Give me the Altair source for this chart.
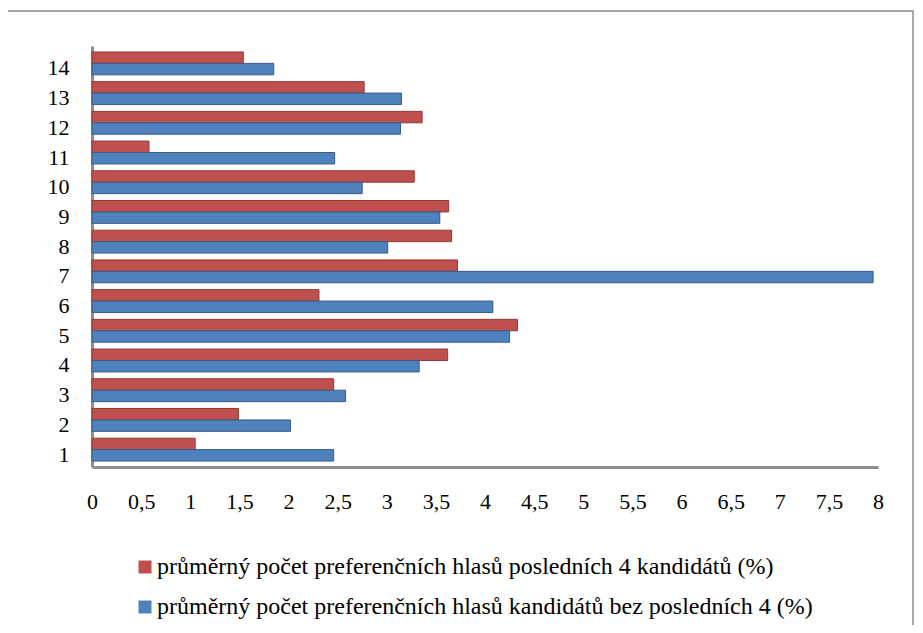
import altair as alt
import pandas as pd

categories = [str(i) for i in range(1, 15)]
red_vals = [1.05, 1.49, 2.46, 3.62, 4.33, 2.31, 3.72, 3.66, 3.63, 3.28, 0.58, 3.36, 2.77, 1.54]
blue_vals = [2.46, 2.02, 2.58, 3.33, 4.25, 4.08, 7.95, 3.01, 3.54, 2.75, 2.47, 3.14, 3.15, 1.85]
series_names = [
    "průměrný počet preferenčních hlasů posledních 4 kandidátů (%)",
    "průměrný počet preferenčních hlasů kandidátů bez posledních 4 (%)",
]
x_ticks = [i * 0.5 for i in range(17)]
colors = ["#C0504D", "#4F81BD"]
strokes = ["#953735", "#385D8A"]

rows = []
for c, r, b in zip(categories, red_vals, blue_vals):
    rows.append({"cat": c, "series": series_names[0], "value": r})
    rows.append({"cat": c, "series": series_names[1], "value": b})
df = pd.DataFrame(rows)

W, H = 786, 421
FONT = "Liberation Serif"

bars = alt.Chart(df).mark_bar(strokeWidth=1).encode(
    x=alt.X("value:Q",
            scale=alt.Scale(domain=[0, 8], nice=False, zero=True),
            axis=alt.Axis(values=x_ticks, title=None, grid=False, ticks=False,
                          labelExpr="replace(toString(datum.value), '.', ',')",
                          labelPadding=24, labelFontSize=22, labelFont=FONT,
                          labelColor="black", domainColor="#8C8C8C", domainWidth=3,
                          labelFlush=False)),
    y=alt.Y("cat:N", sort=list(reversed(categories)),
            scale=alt.Scale(paddingInner=0.23, paddingOuter=0.2),
            axis=alt.Axis(title=None, ticks=False, labelPadding=23, labelFontSize=22,
                          labelFont=FONT, labelColor="black", domainColor="#8C8C8C",
                          domainWidth=3, labelOffset=5)),
    yOffset=alt.YOffset("series:N", sort=series_names),
    color=alt.Color("series:N",
                    scale=alt.Scale(domain=series_names, range=colors),
                    legend=alt.Legend(title=None, orient="none", legendX=41, legendY=509,
                                      direction="vertical", symbolType="square",
                                      symbolSize=169, symbolStrokeWidth=0,
                                      labelFontSize=24, labelFont=FONT, labelColor="black",
                                      labelLimit=900, rowPadding=16, labelOffset=0)),
    stroke=alt.Stroke("series:N", scale=alt.Scale(domain=series_names, range=strokes),
                      legend=None),
)

frame = alt.Chart(pd.DataFrame({"a": [0]})).mark_rect(
    fill=None, filled=False, stroke="#8A8A8A", strokeWidth=1.5
).encode(
    x=alt.value(-85), x2=alt.value(821), y=alt.value(-35), y2=alt.value(640)
)

chart = alt.layer(frame, bars).properties(
    width=W, height=H,
    autosize=alt.AutoSizeParams(type="none"),
    padding={"left": 84, "top": 38, "right": 36, "bottom": 158},
).configure_view(stroke=None)

chart.save("out.html", embed_options={"renderer": "svg", "actions": False})
